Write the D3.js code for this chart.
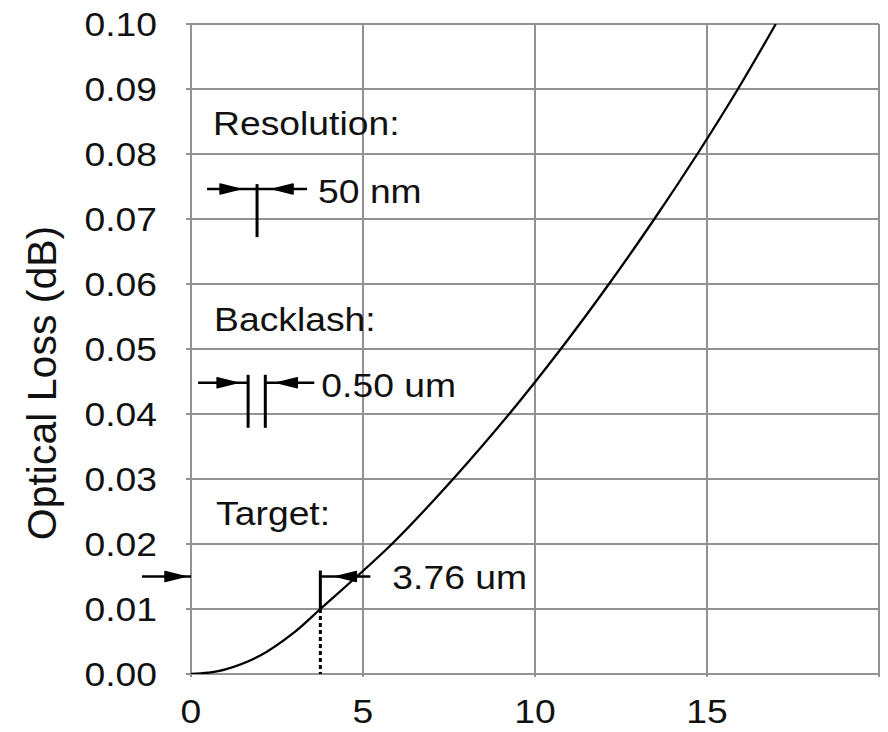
<!DOCTYPE html>
<html><head><meta charset="utf-8">
<script src="https://cdn.jsdelivr.net/npm/d3@7"></script>
<style>body{margin:0;background:#fff}svg{display:block}</style>
</head><body>
<script>
// ---- data ----
const displacement = [0, 0.5, 1.0, 2.0, 3.0, 3.76, 5.84, 7.62, 9.25, 10.75, 12.15, 13.47, 14.72, 15.90, 17.00];
const opticalLoss  = [0, 0.0002, 0.0007, 0.0028, 0.0064, 0.0100, 0.0200, 0.0300, 0.0400, 0.0500, 0.0600, 0.0700, 0.0800, 0.0900, 0.1000];
const xTicks = [0, 5, 10, 15, 20];
const xTickLabels = ["0", "5", "10", "15", ""];
const yTicks = [0, 0.01, 0.02, 0.03, 0.04, 0.05, 0.06, 0.07, 0.08, 0.09, 0.10];
const yTickLabels = ["0.00","0.01","0.02","0.03","0.04","0.05","0.06","0.07","0.08","0.09","0.10"];
const annotationLabels = ["Resolution:", "50 nm", "Backlash:", "0.50 um", "Target:", "3.76 um"];
const targetLoss = 0.010, targetDisp = 3.76, backlash = 0.50, resolutionX = 1.92, backlashX = 1.66;
const arrowLoss = [0.0746, 0.0448, 0.015];

// ---- layout ----
const W = 888, H = 732;
const m = {l: 191, t: 24, r: 879, b: 674};
const x = d3.scaleLinear().domain([0, 20]).range([m.l, m.r]);
const y = d3.scaleLinear().domain([0, 0.1]).range([m.b, m.t]);
const grid = "#929292", font = "'Liberation Sans', Arial, sans-serif";
const SX = 1.13;

const svg = d3.select("body").append("svg").attr("width", W).attr("height", H);

// grid
svg.append("g").selectAll("line").data(xTicks).join("line")
  .attr("x1", d => x(d)).attr("x2", d => x(d)).attr("y1", m.t).attr("y2", m.b + 3)
  .attr("stroke", grid).attr("stroke-width", 2);
svg.append("g").selectAll("line").data(yTicks).join("line")
  .attr("x1", m.l - 5).attr("x2", m.r).attr("y1", d => y(d)).attr("y2", d => y(d))
  .attr("stroke", grid).attr("stroke-width", 2);

// tick labels
svg.append("g").selectAll("text").data(yTicks).join("text")
  .attr("transform", d => `translate(157,${y(d) + 12}) scale(${SX},1)`)
  .attr("text-anchor", "end").attr("font-family", font).attr("font-size", 33).attr("fill", "#111")
  .text((d, i) => yTickLabels[i]);
svg.append("g").selectAll("text").data(xTicks).join("text")
  .attr("transform", d => `translate(${x(d)},723) scale(${SX},1)`)
  .attr("text-anchor", "middle").attr("font-family", font).attr("font-size", 33).attr("fill", "#111")
  .text((d, i) => xTickLabels[i]);

// y axis title
svg.append("text").attr("transform", "translate(56,383) rotate(-90)")
  .attr("text-anchor", "middle").attr("font-family", font).attr("font-size", 41).attr("fill", "#111")
  .text("Optical Loss (dB)");

// curve
svg.append("clipPath").attr("id", "clip").append("rect")
  .attr("x", m.l).attr("y", m.t).attr("width", m.r - m.l).attr("height", m.b - m.t);
const pts = displacement.map((d, i) => [d, opticalLoss[i]]);
svg.append("path").datum(pts).attr("clip-path", "url(#clip)")
  .attr("d", d3.line().x(d => x(d[0])).y(d => y(d[1])).curve(d3.curveCatmullRom))
  .attr("fill", "none").attr("stroke", "#000").attr("stroke-width", 2.3);

// annotation helpers
const ink = "#000";
function seg(x1, y1, x2, y2, w = 3, dash = null) {
  const l = svg.append("line").attr("x1", x1).attr("y1", y1).attr("x2", x2).attr("y2", y2)
    .attr("stroke", ink).attr("stroke-width", w);
  if (dash) l.attr("stroke-dasharray", dash);
}
function head(tx, ty, dir) { // dir +1 points right, -1 points left
  const L = 20, h = 5;
  svg.append("path")
    .attr("d", `M${tx},${ty} L${tx - dir * L},${ty - h} L${tx - dir * L},${ty + h} Z`)
    .attr("fill", ink).attr("stroke", ink).attr("stroke-width", 1.5).attr("stroke-linejoin", "round");
}
function label(txt, px, py) {
  svg.append("text").attr("transform", `translate(${px},${py}) scale(${SX},1)`)
    .attr("font-family", font).attr("font-size", 33).attr("fill", "#111").text(txt);
}

// Resolution
{
  const vx = x(resolutionX), vy = y(arrowLoss[0]);
  seg(vx - 50, vy, vx + 50, vy, 2.5);
  seg(vx, vy - 5, vx, vy + 48, 3);
  head(vx - 17, vy, 1);
  head(vx + 16, vy, -1);
  label(annotationLabels[0], x(0.64), y(0.0829));
  label(annotationLabels[1], vx + 61, vy + 14);
}
// Backlash
{
  const v1 = x(backlashX), v2 = x(backlashX + backlash), vy = y(arrowLoss[1]);
  seg(v1 - 50, vy, v1, vy, 2.5);
  seg(v2, vy, v2 + 49, vy, 2.5);
  seg(v1, vy - 8, v1, vy + 45, 3);
  seg(v2, vy - 8, v2, vy + 45, 3);
  head(v1 - 11, vy, 1);
  head(v2 + 12, vy, -1);
  label(annotationLabels[2], x(0.67), y(0.0528));
  label(annotationLabels[3], v2 + 56, vy + 14);
}
// Target
{
  const vx = x(targetDisp), vy = y(arrowLoss[2]);
  seg(m.l - 49, vy, m.l, vy, 2.5);
  head(m.l - 6, vy, 1);
  seg(vx, vy - 6, vx, y(targetLoss), 3);
  seg(vx, y(targetLoss), vx, m.b, 3, "4,3");
  seg(vx, vy, vx + 50, vy, 2.5);
  head(vx + 16, vy, -1);
  label(annotationLabels[4], x(0.73), y(0.0229));
  label(annotationLabels[5], vx + 72, vy + 12);
}
</script>
</body></html>
